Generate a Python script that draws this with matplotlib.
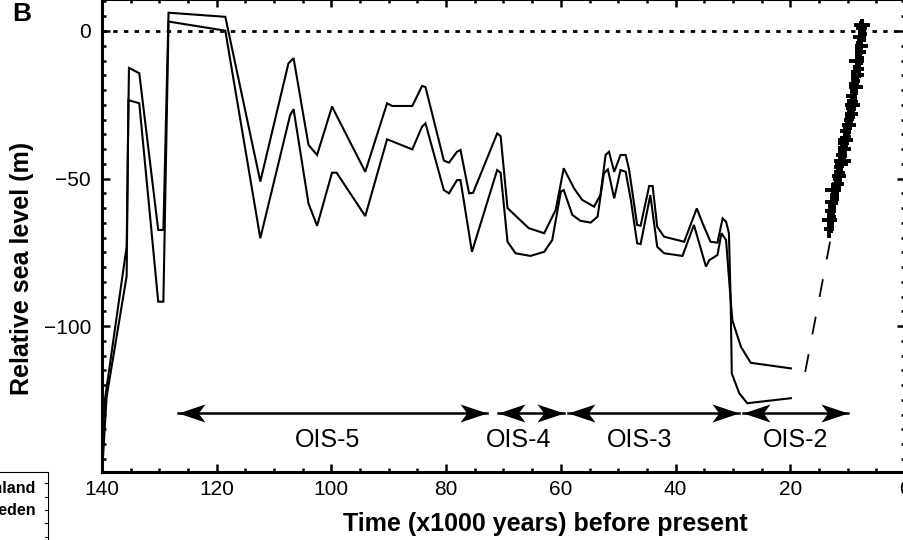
import matplotlib
matplotlib.use('Agg')
import matplotlib.pyplot as plt
from matplotlib.path import Path
from matplotlib.lines import Line2D
from matplotlib.ticker import MultipleLocator, FixedLocator

plt.rcParams['font.family'] = ['Liberation Sans', 'DejaVu Sans']
plt.rcParams['lines.scale_dashes'] = False

# ---------------- data ----------------
upper_age = [140.0, 139.5, 135.7, 135.3, 133.5, 130.2, 129.3, 128.4, 118.5, 112.4, 107.5, 106.6,
             104.0, 102.5, 99.9, 94.1, 90.3, 89.4, 85.9, 84.2, 83.6, 80.4, 79.5, 78.1, 77.5,
             76.0, 75.3, 71.1, 70.5, 69.3, 65.6, 62.9, 60.9, 59.5, 57.7, 56.3, 54.2, 53.1,
             52.2, 51.6, 50.7, 49.6, 48.7, 48.1, 46.7, 46.1, 44.6, 44.0, 43.2, 42.0, 39.7,
             38.5, 36.3, 35.3, 33.9, 32.7, 31.8, 31.2, 30.7, 30.4, 30.1, 28.6, 26.9, 19.9]
upper_rsl = [-140, -125, -73, -12.5, -14.3, -67.4, -67.4, 6.2, 4.8, -51, -11, -9.2,
             -38.6, -42, -25.6, -47.7, -24.5, -25.4, -25.4, -18.6, -19, -43.9, -44.6, -40.9, -40.3,
             -55, -54.8, -34.7, -35.6, -60, -66.8, -68.5, -60.6, -46.5, -53.3, -57.2, -59.5, -55.5,
             -42, -40.9, -47.7, -42, -42, -47, -65.7, -66, -52.5, -52.5, -66.3, -69.7, -70.8,
             -71.4, -60.1, -65.1, -71.4, -71.7, -63.5, -64.6, -68.5, -91, -98, -107, -112.4, -114.3]

lower_age = [140.0, 139.2, 135.7, 135.4, 133.5, 130.2, 129.3, 128.4, 118.5, 112.4, 107.2, 106.6,
             104.0, 102.5, 99.9, 99.1, 94.1, 90.3, 85.9, 84.2, 83.6, 80.4, 79.5, 78.1, 77.5,
             75.5, 71.1, 70.5, 69.3, 67.9, 65.3, 62.9, 61.5, 60.0, 59.5, 58.0, 56.6, 54.8,
             53.6, 52.5, 51.8, 50.7, 49.6, 48.7, 47.8, 46.7, 46.1, 44.4, 43.2, 42.0, 38.8,
             36.8, 34.7, 34.1, 32.7, 32.0, 31.2, 30.4, 30.2, 28.9, 27.5, 19.9]
lower_rsl = [-150, -124, -83, -23.4, -24.5, -91.7, -91.7, 3.2, 0.1, -70.2, -28.5, -26.5,
             -58.4, -66, -48, -48, -62.7, -36.7, -40.1, -32.4, -31.3, -53.9, -55, -50.5, -50.5,
             -74.8, -47.1, -48, -71.4, -75.3, -76.2, -74.8, -70.8, -54.4, -53.9, -62.3, -64.3, -64.9,
             -62.9, -48.2, -46.9, -56.7, -47.1, -47.7, -57.2, -71.9, -72.2, -55.6, -73.1, -75.3, -76.2,
             -65.7, -79.8, -77.6, -75.9, -68.5, -70.8, -91, -116, -122.7, -126.1, -124.4]

gap_age = [17.4, 12.9]
gap_rsl = [-115.5, -69.7]

coral_age = [13.3, 12.9, 13.2, 12.7, 13.0, 12.5, 12.8, 12.3, 12.1, 12.5,
             11.9, 11.7, 12.1, 11.5, 11.3, 11.7, 11.1, 10.9, 11.3, 10.7,
             10.5, 10.9, 10.3, 10.1, 10.5, 9.9, 9.7, 10.1, 9.5, 9.3,
             9.7, 9.1, 8.9, 9.3, 8.7, 8.6, 9.0, 8.4, 8.3, 8.7,
             8.1, 8.0, 8.4, 7.8, 7.8, 8.2, 7.6, 7.6, 7.9, 7.4,
             7.6, 7.5]
coral_rsl = [-67, -66, -64, -63, -61, -60, -58, -57, -56, -54,
             -53, -52, -50, -49, -48, -46, -45, -44, -42, -41,
             -40, -38, -37, -36, -34, -33, -32, -30, -29, -28,
             -26, -25, -24, -22, -21, -19, -18, -17, -15, -14,
             -13, -11, -10, -9, -7, -6, -5, -3, -2, -1,
             1, 2]
coral_age_err = [0.9, 0.6, 1.3, 0.7, 1.0, 0.5, 1.2, 0.8, 0.6, 1.4,
                 0.7, 1.0, 0.5, 1.3, 0.8, 0.6, 1.1, 1.5, 0.7, 0.5,
                 1.0, 0.8, 1.3, 0.6, 0.9, 0.7, 1.2, 0.5, 0.8, 1.1,
                 0.6, 1.3, 0.7, 1.0, 0.5, 1.2, 0.8, 0.6, 1.1, 0.7,
                 0.9, 0.6, 1.3, 0.7, 1.0, 0.5, 1.2, 0.8, 1.1, 0.7,
                 1.0, 1.4]
coral_rsl_err = [3.0, 2.5, 3.0, 2.5, 3.0, 2.5, 3.0, 2.5, 3.0, 2.5,
                 3.0, 2.5, 3.0, 2.5, 3.0, 2.5, 3.0, 2.5, 3.0, 2.5,
                 3.0, 2.5, 3.0, 2.5, 3.0, 2.5, 3.0, 2.5, 3.0, 2.5,
                 3.0, 2.5, 3.0, 2.5, 3.0, 2.5, 3.0, 2.5, 3.0, 2.5,
                 3.0, 2.5, 3.0, 2.5, 3.0, 2.5, 3.0, 2.5, 3.0, 2.5,
                 2.5, 2.0]

ois_labels = ['OIS-5', 'OIS-4', 'OIS-3', 'OIS-2']
ois_start = [126.7, 70.9, 58.8, 28.3]
ois_end = [72.8, 59.5, 29.0, 10.0]
ois_text_age = [100.6, 67.4, 46.3, 19.0]
ois_arrow_rsl = -129.4
ois_text_rsl = -140.9

xticks = [140, 120, 100, 80, 60, 40, 20, 0]
yticks = [0, -50, -100]

# ---------------- figure ----------------
W, H = 904, 540
fig = plt.figure(figsize=(W / 100, H / 100), dpi=100)


def px_rect(x0, y0, x1, y1):
    return [x0 / W, 1 - y1 / H, (x1 - x0) / W, (y1 - y0) / H]


ax = fig.add_axes(px_rect(102, -1, 905, 472))
ax.set_xlim(140, 0)
ax.set_ylim(-149.4, 10.84)

lw = 1.5
ax.plot(upper_age, upper_rsl, color='black', lw=lw, solid_joinstyle='miter')
ax.plot(lower_age, lower_rsl, color='black', lw=lw, solid_joinstyle='miter')
ax.plot(gap_age, gap_rsl, color='black', lw=1.3, dashes=(13, 14.5))
ax.axhline(0, color='black', lw=2.0, dashes=(3.2, 4.5))

ax.errorbar(coral_age, coral_rsl, xerr=coral_age_err, yerr=coral_rsl_err,
            fmt='none', ecolor='black', elinewidth=2.8, capsize=0)

# arrows with stealth heads
head_left = Path([(0, 0), (2, 0.67), (1.5, 0), (2, -0.67), (0, 0)],
                 [Path.MOVETO, Path.LINETO, Path.LINETO, Path.LINETO, Path.CLOSEPOLY])
head_right = Path([(0, 0), (-2, 0.67), (-1.5, 0), (-2, -0.67), (0, 0)],
                  [Path.MOVETO, Path.LINETO, Path.LINETO, Path.LINETO, Path.CLOSEPOLY])
ms = 2 * 27 / 1.389
for lab, a0, a1, ta in zip(ois_labels, ois_start, ois_end, ois_text_age):
    ax.plot([a0, a1], [ois_arrow_rsl, ois_arrow_rsl], color='black', lw=1.8)
    ax.plot([a0], [ois_arrow_rsl], marker=head_left, ms=ms, color='black', mew=0)
    ax.plot([a1], [ois_arrow_rsl], marker=head_right, ms=ms, color='black', mew=0)
    ax.text(ta, ois_text_rsl, lab, ha='center', va='baseline', fontsize=18)

# axes styling
for s in ax.spines.values():
    s.set_linewidth(2.2)
ax.xaxis.set_major_locator(FixedLocator(xticks))
ax.yaxis.set_major_locator(FixedLocator(yticks))
ax.xaxis.set_minor_locator(MultipleLocator(5))
ax.yaxis.set_minor_locator(MultipleLocator(5))
ax.tick_params(which='both', direction='in', top=True, right=True, width=1.8)
ax.tick_params(which='major', length=6)
ax.tick_params(which='minor', length=3)
ax.tick_params(axis='x', which='major', labelsize=15, pad=6)
ax.tick_params(axis='y', which='major', labelsize=15, pad=8)

ax.set_xlabel('Time (x1000 years) before present', fontsize=18, fontweight='bold')
ax.xaxis.set_label_coords(0.552, -0.085)
ax.set_ylabel('Relative sea level (m)', fontsize=18, fontweight='bold')
ax.yaxis.set_label_coords(-0.085, 0.43)

# panel label
fig.text(12 / W, 1 - 2 / H, 'B', fontsize=19, fontweight='bold', ha='left', va='top')

# fragment of neighbouring panel (bottom-left)
fig.add_artist(Line2D([0, 48 / W], [1 - 472 / H, 1 - 472 / H], color='black', lw=0.8))
fig.add_artist(Line2D([48 / W, 48 / W], [1 - 472 / H, 0], color='black', lw=0.8))
for yy in [483, 497, 510, 523, 537]:
    fig.add_artist(Line2D([45 / W, 48 / W], [1 - yy / H, 1 - yy / H], color='black', lw=0.8))
fig.text(36 / W, 1 - 493 / H, 'Finland', fontsize=11.5, fontweight='bold', ha='right', va='baseline')
fig.text(36 / W, 1 - 515 / H, 'Sweden', fontsize=11.5, fontweight='bold', ha='right', va='baseline')

fig.savefig('out.png', dpi=100)
